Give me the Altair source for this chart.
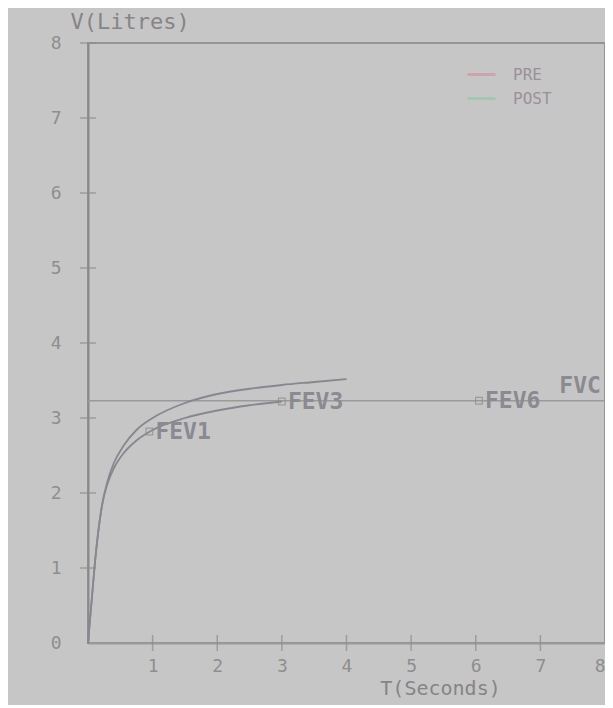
import altair as alt
import pandas as pd

# ---- data (seconds, litres) ----
pre_t = [0, 0.05, 0.1, 0.15, 0.22, 0.3, 0.4, 0.55, 0.75, 1.0, 1.5, 2.0, 2.5, 3.0, 3.5, 4.0]
pre_v = [0, 0.5, 1.0, 1.42, 1.85, 2.15, 2.4, 2.63, 2.84, 3.0, 3.2, 3.32, 3.39, 3.44, 3.48, 3.52]
post_t = [0, 0.05, 0.1, 0.15, 0.22, 0.3, 0.4, 0.55, 0.75, 1.0, 1.5, 2.0, 2.5, 3.0]
post_v = [0, 0.5, 1.0, 1.42, 1.85, 2.12, 2.33, 2.53, 2.7, 2.84, 3.0, 3.1, 3.17, 3.22]
fvc_t = [0, 8]
fvc_v = [3.23, 3.23]
mark_names = ["FEV1", "FEV3", "FEV6", "FVC"]
mark_t = [0.95, 3.0, 6.05, 7.2]
mark_v = [2.82, 3.22, 3.23, 3.43]
series_names = ["PRE", "POST"]
legend_colors = ["#cfa3ac", "#a3c7b3"]
x_ticks = [1, 2, 3, 4, 5, 6, 7, 8]
y_ticks = [0, 1, 2, 3, 4, 5, 6, 7, 8]

curves = pd.concat([
    pd.DataFrame({"t": pre_t, "v": pre_v, "series": "PRE"}),
    pd.DataFrame({"t": post_t, "v": post_v, "series": "POST"}),
])
fvc = pd.DataFrame({"t": fvc_t, "v": fvc_v})
marks = pd.DataFrame({"t": mark_t, "v": mark_v, "name": mark_names})
xt = pd.DataFrame({"t": x_ticks[:-1], "v": [0] * (len(x_ticks) - 1)})
yt = pd.DataFrame({"t": [0] * (len(y_ticks) - 1), "v": y_ticks[1:]})

FONT = "DejaVu Sans Mono"
GREY = "#8c8c8c"

xs = alt.Scale(domain=[0, 8], nice=False)
ys = alt.Scale(domain=[0, 8], nice=False)
xaxis = alt.Axis(values=x_ticks, title="T(Seconds)", ticks=False, grid=False,
                 labelPadding=14, labelFontSize=18, labelFont=FONT, labelColor="#8e8e8e",
                 domainColor="#9a9a9a", domainWidth=2,
                 titleFont=FONT, titleFontSize=20, titleColor="#858585", titleFontWeight="normal",
                 titleX=352, titleY=45, titleAlign="center", titleBaseline="middle")
yaxis = alt.Axis(values=y_ticks, title="V(Litres)", ticks=False, grid=False,
                 labelPadding=27, labelFontSize=18, labelFont=FONT, labelColor="#8e8e8e",
                 domainColor="#8a8a8a", domainWidth=2,
                 titleFont=FONT, titleFontSize=22, titleColor="#858585", titleFontWeight="normal",
                 titleAngle=0, titleX=-18, titleY=-22, titleAlign="left", titleBaseline="middle")

X = alt.X("t:Q", scale=xs, axis=xaxis)
Y = alt.Y("v:Q", scale=ys, axis=yaxis)

fvc_line = alt.Chart(fvc).mark_line(color="#9a9a9a", strokeWidth=1.5).encode(x=X, y=Y)

curve_lines = alt.Chart(curves).mark_line(interpolate="monotone", strokeWidth=1.8, color="#878790").encode(
    x=X, y=Y, detail="series:N", order="t:Q")

legend_layer = alt.Chart(curves).mark_line(opacity=0).encode(
    x=X, y=Y,
    color=alt.Color("series:N",
                    scale=alt.Scale(domain=series_names, range=legend_colors),
                    sort=series_names,
                    legend=alt.Legend(title=None, orient="none", legendX=378, legendY=16,
                                      symbolType="stroke", symbolSize=784, symbolStrokeWidth=3,
                                      symbolOpacity=1, labelFont=FONT, labelFontSize=16,
                                      labelColor="#9b9098", labelOffset=16, rowPadding=0)))

squares = alt.Chart(marks).transform_filter("datum.name != 'FVC'").mark_square(
    filled=False, size=45, stroke="#8a8a8a", strokeWidth=1.2).encode(x=X, y=Y)

labels = alt.Chart(marks).mark_text(align="left", baseline="middle", dx=6, font=FONT,
                                    fontSize=23, fontWeight="bold", color="#8a8a90").encode(
    x=X, y=Y, text="name:N")

xticks = alt.Chart(xt).mark_tick(orient="vertical", size=16, thickness=1.5, color=GREY).encode(x=X, y=Y)
yticks = alt.Chart(yt).mark_tick(orient="horizontal", size=16, thickness=1.5, color=GREY).encode(x=X, y=Y)

chart = alt.layer(fvc_line, legend_layer, curve_lines, squares, labels, xticks, yticks).properties(
    width=517, height=600,
    autosize=alt.AutoSizeParams(type="none"),
    padding={"left": 80, "top": 35, "right": 0, "bottom": 62},
    background="#c6c6c6",
).configure_view(stroke="#959595", strokeWidth=2)

chart.save("out.html", embed_options={"renderer": "svg", "actions": False})
